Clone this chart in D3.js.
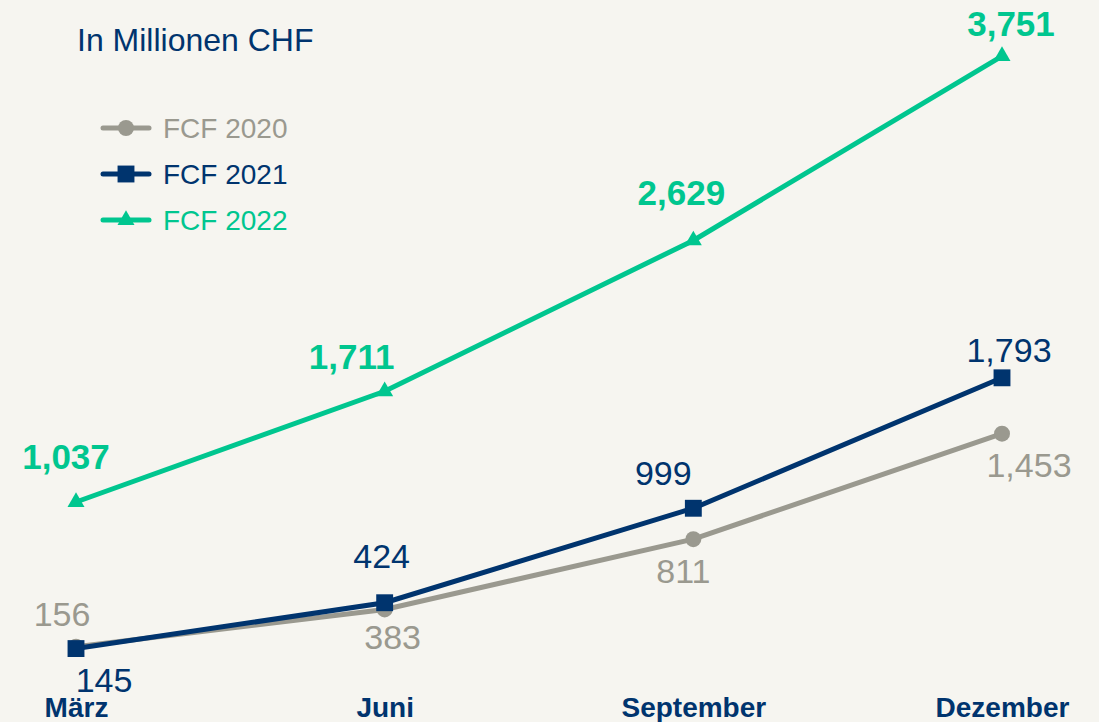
<!DOCTYPE html>
<html lang="de">
<head>
    <meta charset="UTF-8">
    <title>FCF</title>
    <script src="https://cdn.jsdelivr.net/npm/d3@7"></script>
</head>
<style>
    body { margin: 0; background-color: #f6f5f0; }
    svg { display: block; background-color: #f6f5f0; font-family: "Liberation Sans", Arial, sans-serif; }
</style>
<body>
    <div id="graphDiv"></div>

    <script>
        // Data
        var months = ['März', 'Juni', 'September', 'Dezember']
        var fcf2020 = [156, 383, 811, 1453]
        var fcf2021 = [145, 424, 999, 1793]
        var fcf2022 = [1037, 1711, 2629, 3751]
        var seriesNames = ['FCF 2020', 'FCF 2021', 'FCF 2022']

        var width = 1099
        var height = 722

        var colors = ['#9a998f', '#00346e', '#00c68f']

        // label offsets from the point (dx, baseline dy), hand placed like the slide
        var labelNudge = [
            [[-14, -21], [8, 40], [-10, 44], [27, 43]],
            [[28, 43], [-3, -35], [-30, -23], [7, -16]],
            [[-10, -33], [-33, -22], [-12, -35], [9, -20]]
        ]

        var svg = d3.select('#graphDiv')
                    .append('svg')
                    .attr('width', width)
                    .attr('height', height)

        var xScale = d3.scalePoint()
                        .domain(months)
                        .range([76, 1002])

        var yScale = d3.scaleLinear()
                        .domain([0, 4000])
                        .range([672.4, 15.2])

        // Title
        svg.append('text')
            .attr('x', 77)
            .attr('y', 51)
            .attr('font-size', 32)
            .attr('fill', '#00346e')
            .text('In Millionen CHF')

        // Category axis (labels only)
        var xAxis = d3.axisBottom(xScale).tickSize(0).tickPadding(0)
        var axisG = svg.append('g')
                        .attr('transform', 'translate(0,717)')
                        .call(xAxis)
        axisG.select('.domain').remove()
        axisG.selectAll('text')
            .attr('dy', 0)
            .attr('y', 0)
            .attr('font-size', 28)
            .attr('font-weight', 'bold')
            .attr('font-family', '"Liberation Sans", Arial, sans-serif')
            .attr('fill', '#00346e')

        var series = [fcf2020, fcf2021, fcf2022].map((vals, i) => ({
            name: seriesNames[i],
            color: colors[i],
            values: vals.map((v, j) => ({ month: months[j], value: v }))
        }))

        var line = d3.line()
                    .x(d => xScale(d.month))
                    .y(d => yScale(d.value))

        var symbols = [d3.symbolCircle, d3.symbolSquare, d3.symbolTriangle]
        var symbolSizes = [200, 285, 125]

        series.forEach((s, i) => {
            var g = svg.append('g')

            g.append('path')
                .datum(s.values)
                .attr('d', line)
                .attr('fill', 'none')
                .attr('stroke', s.color)
                .attr('stroke-width', 5)

            g.selectAll('path.marker')
                .data(s.values)
                .join('path')
                .attr('class', 'marker')
                .attr('transform', d => `translate(${xScale(d.month)},${yScale(d.value)})`)
                .attr('d', d3.symbol().type(symbols[i]).size(symbolSizes[i]))
                .attr('fill', s.color)

            g.selectAll('text')
                .data(s.values)
                .join('text')
                .attr('x', (d, j) => xScale(d.month) + labelNudge[i][j][0])
                .attr('y', (d, j) => yScale(d.value) + labelNudge[i][j][1])
                .attr('text-anchor', 'middle')
                .attr('font-size', i === 2 ? 35 : 34)
                .attr('font-weight', i === 2 ? 'bold' : 'normal')
                .attr('fill', s.color)
                .text(d => d3.format(',')(d.value))
        })

        // Legend
        var legend = svg.append('g')
        series.forEach((s, i) => {
            var ly = 128 + i * 46
            legend.append('line')
                .attr('x1', 103).attr('x2', 149)
                .attr('y1', ly).attr('y2', ly)
                .attr('stroke', s.color)
                .attr('stroke-width', 5)
                .attr('stroke-linecap', 'round')
            legend.append('path')
                .attr('transform', `translate(126,${ly})`)
                .attr('d', d3.symbol().type(symbols[i]).size(symbolSizes[i]))
                .attr('fill', s.color)
            legend.append('text')
                .attr('x', 163)
                .attr('y', ly + 10)
                .attr('font-size', 28)
                .attr('fill', s.color)
                .text(s.name)
        })
    </script>
</body>
</html>
